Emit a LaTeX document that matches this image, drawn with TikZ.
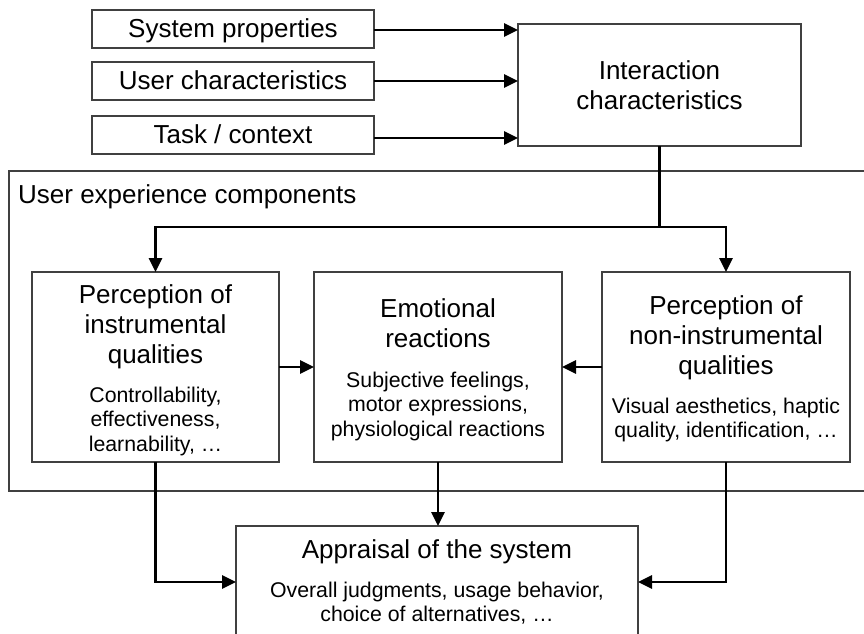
\documentclass[tikz,border=0pt]{standalone}
\usepackage{fontspec}
\setmainfont{Liberation Sans}
\usetikzlibrary{arrows.meta}

% zero-width struts that fix the height of the first line of a block
\newcommand\bigstrut{\rule{0pt}{20pt}}
\newcommand\smallstrut{\rule{0pt}{16pt}}

\begin{document}
\begin{tikzpicture}[
  x=1pt, y=-1pt,
  box/.style={draw=black!75, line width=1.2pt, fill=white, inner sep=0pt, outer sep=0pt},
  conn/.style={draw=black, line width=2.8pt},
  arr/.style={conn, -{Triangle[length=14pt,width=13pt]}},
  big/.style={font=\fontsize{26}{30}\selectfont, align=center, inner sep=0pt, anchor=north},
  small/.style={font=\fontsize{21.3}{24.5}\selectfont, align=center, inner sep=0pt, anchor=north},
  oneline/.style={font=\fontsize{26}{30}\selectfont, inner sep=0pt, anchor=base},
]
\clip (0,0) rectangle (864,633);
\useasboundingbox (0,0) rectangle (864,633);

% outer frame of the user experience components
\node[box, minimum width=866pt, minimum height=320pt] (ux) at (442,331) {};
\node[oneline, anchor=base west] (uxtitle) at (18,203) {User experience components};

% input factors
\node[box, minimum width=282pt, minimum height=38pt] (sp) at (233,29) {};
\node[box, minimum width=282pt, minimum height=38pt] (uc) at (233,81) {};
\node[box, minimum width=282pt, minimum height=38pt] (tc) at (233,135) {};
\node[oneline] (sptext) at (233,37) {System properties};
\node[oneline] (uctext) at (233,89) {User characteristics};
\node[oneline] (tctext) at (233,143) {Task / context};

% interaction characteristics
\node[box, minimum width=283pt, minimum height=122pt] (ic) at (659.5,85) {};
\node[big] (ictext) at (659.5,59) {\bigstrut Interaction\\characteristics};

% component boxes
\node[box, minimum width=247pt, minimum height=190pt] (pi) at (155.5,367) {};
\node[box, minimum width=248pt, minimum height=190pt] (em) at (438,367) {};
\node[box, minimum width=248pt, minimum height=190pt] (pn) at (726,367) {};

\node[big] (pititle) at (155.5,283) {\bigstrut Perception of\\instrumental\\qualities};
\node[small] (pisub) at (155.5,386) {\smallstrut Controllability,\\effectiveness,\\learnability, …};

\node[big] (emtitle) at (438,297) {\bigstrut Emotional\\reactions};
\node[small] (emsub) at (438,371) {\smallstrut Subjective feelings,\\motor expressions,\\physiological reactions};

\node[big] (pntitle) at (726,294) {\bigstrut Perception of\\non-instrumental\\qualities};
\node[small] (pnsub) at (726,397) {\smallstrut Visual aesthetics, haptic\\quality, identification, …};

% appraisal
\node[box, minimum width=402pt, minimum height=112pt] (ap) at (437,582) {};
\node[oneline] (aptitle) at (437,558) {Appraisal of the system};
\node[small] (apsub) at (437,581) {\smallstrut Overall judgments, usage behavior,\\choice of alternatives, …};

% connectors
\draw[arr] ([yshift=-1pt]sp.east) -- ([yshift=-1pt]sp.east -| ic.west);
\draw[arr] (uc.east) -- (uc.east -| ic.west);
\draw[arr] ([yshift=-3pt]tc.east) -- ([yshift=-3pt]tc.east -| ic.west);

\draw[conn] (ic.south) -- (ic.south |- 0,227) coordinate (split);
\draw[arr] ([xshift=1.4pt]split) -| (pi.north);
\draw[arr] ([xshift=-1.4pt]split) -| (pn.north);

\draw[arr] (pi.east) -- (em.west);
\draw[arr] (pn.west) -- (em.east);

\draw[arr] (em.south) -- (em.south |- ap.north);
\draw[arr] (pi.south) |- (ap.west);
\draw[arr] (pn.south) |- (ap.east);
\end{tikzpicture}
\end{document}
